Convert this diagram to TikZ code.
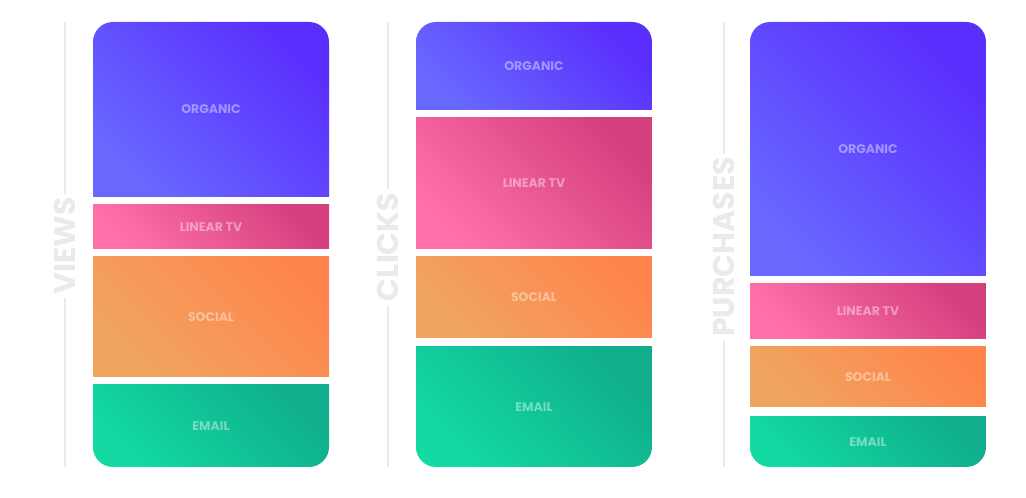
\documentclass[tikz,border=0pt]{standalone}
\usepackage{fontspec}
\setmainfont{Poppins}
\usetikzlibrary{shadings}
\definecolor{oA}{HTML}{5A2EFD}\definecolor{oB}{HTML}{6868FF}
\definecolor{lA}{HTML}{D4407E}\definecolor{lB}{HTML}{FF70A8}
\definecolor{sA}{HTML}{FF854C}\definecolor{sB}{HTML}{EFA560}
\definecolor{eA}{HTML}{10AE8C}\definecolor{eB}{HTML}{12DAA2}
\definecolor{axis}{HTML}{EAEAEA}
\newcommand{\blk}[7]{% name, x, ytop, ybot, cA, cB, text
  \shade[left color=#5, right color=#6, shading angle=-45]
    (#2,498-#3) rectangle (#2+236,498-#4);
  \node[lbl] (#1) at (#2+118,498-#3/2-#4/2) {#7};}
\tikzset{lbl/.style={text=white, text opacity=0.42, font=\bfseries\fontsize{12.5}{14}\selectfont},
 vlbl/.style={rotate=90, text=axis, font=\bfseries\fontsize{30}{32}\selectfont},
 axisline/.style={draw=axis, line width=1.5pt}}
\begin{document}
\begin{tikzpicture}[x=1pt,y=1pt]
\useasboundingbox (0,0) rectangle (1026,498);
% axes
\node[vlbl] (v) at (65,498-246) {VIEWS};
\node[vlbl] (c) at (388,498-247) {CLICKS};
\node[vlbl] (p) at (724,498-247) {PURCHASES};
\coordinate (vt) at (65,498-22); \coordinate (vb) at (65,498-467);
\coordinate (ct) at (388,498-22); \coordinate (cb) at (388,498-467);
\coordinate (pt) at (724,498-22); \coordinate (pb) at (724,498-467);
\draw[axisline] (vt) -- (v.east); \draw[axisline] (v.west) -- (vb);
\draw[axisline] (ct) -- (c.east); \draw[axisline] (c.west) -- (cb);
\draw[axisline] (pt) -- (p.east); \draw[axisline] (p.west) -- (pb);
% column 1
\begin{scope}
\clip[rounded corners=20] (93,498-22) rectangle (329,498-467);
\blk{o1}{93}{22}{197}{oA}{oB}{ORGANIC}
\blk{l1}{93}{205}{249}{lA}{lB}{LINEAR TV}
\blk{s1}{93}{257}{377}{sA}{sB}{SOCIAL}
\blk{e1}{93}{385}{467}{eA}{eB}{EMAIL}
\end{scope}
% column 2
\begin{scope}
\clip[rounded corners=20] (416,498-22) rectangle (652,498-467);
\blk{o2}{416}{22}{110}{oA}{oB}{ORGANIC}
\blk{l2}{416}{118}{249}{lA}{lB}{LINEAR TV}
\blk{s2}{416}{257}{338}{sA}{sB}{SOCIAL}
\blk{e2}{416}{347}{467}{eA}{eB}{EMAIL}
\end{scope}
% column 3
\begin{scope}
\clip[rounded corners=20] (750,498-22) rectangle (986,498-467);
\blk{o3}{750}{22}{276}{oA}{oB}{ORGANIC}
\blk{l3}{750}{284}{339}{lA}{lB}{LINEAR TV}
\blk{s3}{750}{347}{407}{sA}{sB}{SOCIAL}
\blk{e3}{750}{417}{467}{eA}{eB}{EMAIL}
\end{scope}
\end{tikzpicture}
\end{document}
